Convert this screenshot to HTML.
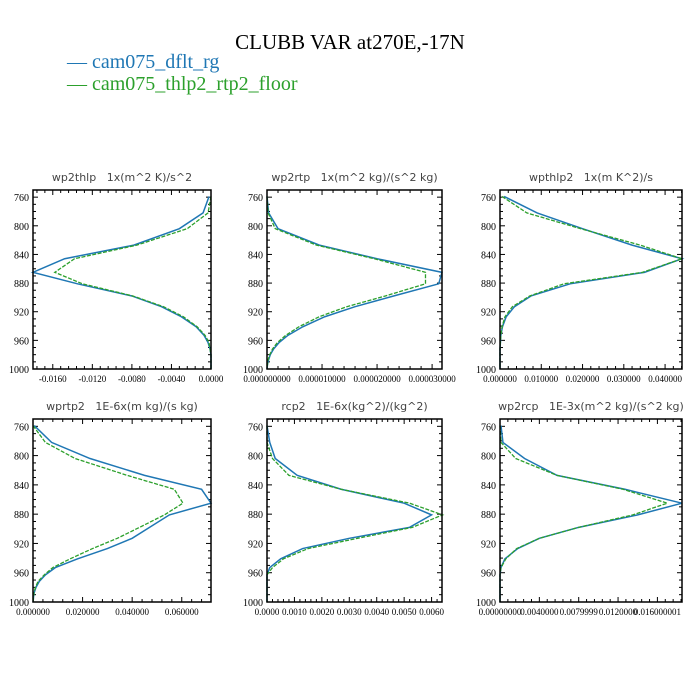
<!DOCTYPE html>
<html><head><meta charset="utf-8"><style>
html,body{margin:0;padding:0;background:#fff;}
svg{display:block;}
.t{font-family:"Liberation Serif",serif;}
.s{font-family:"DejaVu Sans","Liberation Sans",sans-serif;white-space:pre;}
</style></head><body>
<svg id="chart" width="700" height="700" viewBox="0 0 700 700" xmlns="http://www.w3.org/2000/svg">
<rect width="700" height="700" fill="#fff"/>
<text class="t" x="350" y="49" font-size="21" text-anchor="middle">CLUBB VAR at270E,-17N</text>
<g>
<text class="t" x="67" y="68" font-size="20" fill="#1f77b4">— cam075_dflt_rg</text>
<text class="t" x="67" y="90" font-size="20" fill="#2ca02c">— cam075_thlp2_rtp2_floor</text>
</g>
</svg>
<script>
// shared pressure levels (hPa)
const levels = [759,782,804,827,846,865,881,898,913,927,941,953,963,972,980,987,993,998,1000];
const yTicks = [760,800,840,880,920,960,1000];
// panel titles
const titles = ["wp2thlp   1x(m^2 K)/s^2","wp2rtp   1x(m^2 kg)/(s^2 kg)","wpthlp2   1x(m K^2)/s","wprtp2   1E-6x(m kg)/(s kg)","rcp2   1E-6x(kg^2)/(kg^2)","wp2rcp   1E-3x(m^2 kg)/(s^2 kg)"];
// series: dflt (blue) and floor (green)
const p1Blue = [-0.0002,-0.0008,-0.0032,-0.0078,-0.0148,-0.018,-0.0135,-0.0080,-0.0050,-0.0030,-0.0015,-0.0007,-0.0003,-0.0001,0,0,0,0,0];
const p1Green = [0,-0.0003,-0.0024,-0.0075,-0.0138,-0.0158,-0.0130,-0.0079,-0.0048,-0.0028,-0.0014,-0.0006,-0.0002,-0.0001,0,0,0,0,0];
const p2Blue = [0,0.0000003,0.000002,0.0000095,0.000020,0.0000318,0.0000312,0.000023,0.000016,0.0000105,0.0000065,0.0000038,0.0000022,0.0000012,0.0000006,0.0000003,0.0000001,0.00000003,0];
const p2Green = [0,0.0000002,0.0000015,0.000009,0.0000195,0.0000288,0.0000288,0.0000215,0.0000145,0.0000095,0.0000058,0.0000034,0.0000019,0.000001,0.0000005,0.0000002,0.0000001,0.00000003,0];
const p3Blue = [0.001,0.009,0.020,0.032,0.0441,0.035,0.017,0.0075,0.0035,0.0015,0.0006,0.0002,0.0001,0,0,0,0,0,0];
const p3Green = [0.0005,0.0065,0.0195,0.034,0.0441,0.0345,0.0155,0.0072,0.003,0.0012,0.0005,0.0002,0.0001,0,0,0,0,0,0];
const p4Blue = [0.0005,0.0075,0.023,0.045,0.068,0.0718,0.055,0.047,0.040,0.030,0.018,0.009,0.005,0.0025,0.0012,0.0005,0.0002,0.0001,0];
const p4Green = [0,0.005,0.017,0.038,0.057,0.0605,0.053,0.043,0.034,0.024,0.015,0.008,0.0045,0.002,0.001,0.0004,0.0002,0.0001,0];
const p5Blue = [0,0.0001,0.0003,0.0011,0.0027,0.0050,0.0060,0.0052,0.0030,0.0013,0.0005,0.0001,0,0,0,0,0,0,0];
const p5Green = [0,0,0.0002,0.0008,0.0027,0.0052,0.0064,0.0053,0.0033,0.0015,0.0006,0.0002,0,0,0,0,0,0,0];
const p6Blue = [0.0001,0.0003,0.0025,0.0058,0.0127,0.0185,0.0140,0.0080,0.0040,0.0018,0.0005,0.0001,0,0,0,0,0,0,0];
const p6Green = [0,0.0001,0.0016,0.0058,0.0125,0.0170,0.0135,0.0080,0.0040,0.0017,0.0006,0.0001,0,0,0,0,0,0,0];
// x domains and tick values/labels
const xDomains = [[-0.018,0],[0,0.0000318],[0,0.0441],[0,0.0718],[0,0.00638],[0,0.0185]];
const xTickVals = [[-0.016,-0.012,-0.008,-0.004,0],[0,0.00001,0.00002,0.00003],[0,0.01,0.02,0.03,0.04],[0,0.02,0.04,0.06],[0,0.001,0.002,0.003,0.004,0.005,0.006],[0,0.004,0.008,0.012,0.016]];
const xTickLabels = [["-0.0160","-0.0120","-0.0080","-0.0040","0.0000"],["0.000000000","0.000010000","0.000020000","0.000030000"],["0.000000","0.010000","0.020000","0.030000","0.040000"],["0.000000","0.020000","0.040000","0.060000"],["0.0000","0.0010","0.0020","0.0030","0.0040","0.0050","0.0060"],["0.00000000","0.0040000","0.0079999","0.0120000","0.016000001"]];
const blueSeries = [p1Blue,p2Blue,p3Blue,p4Blue,p5Blue,p6Blue];
const greenSeries = [p1Green,p2Green,p3Green,p4Green,p5Green,p6Green];

const NS = "http://www.w3.org/2000/svg";
const svg = document.getElementById('chart');
const lefts = [33,267,500], widths = [178,175,182];
const tops = [190,419], bottoms = [369,602];
function mk(tag, attrs, parent){ const e=document.createElementNS(NS,tag); for(const k in attrs) e.setAttribute(k,attrs[k]); parent.appendChild(e); return e; }

for(let p=0;p<6;p++){
  const col=p%3,row=Math.floor(p/3);
  const L=lefts[col],R=L+widths[col],T=tops[row],B=bottoms[row];
  const d=xDomains[p];
  const xs=v=>L+(v-d[0])/(d[1]-d[0])*(R-L);
  const ys=v=>B-(1000-v)/(1000-750)*(B-T);
  const g=mk('g',{},svg);
  
  
  const tt=mk('text',{x:(L+R)/2,y:T-9,'font-size':11,'text-anchor':'middle',fill:'#444','class':'s'},g);
  
  
  tt.setAttributeNS('http://www.w3.org/XML/1998/namespace','xml:space','preserve');
  tt.textContent=titles[p];
  for(let v=760;v<=1000;v+=10){
    const y=ys(v), major=(v%40===0);
    const len=major?5:3;
    mk('line',{x1:L,y1:y,x2:L+len,y2:y,stroke:'#000','stroke-width':1},g);
    mk('line',{x1:R,y1:y,x2:R-len,y2:y,stroke:'#000','stroke-width':1},g);
  }
  yTicks.forEach(v=>{
    const t=mk('text',{x:L-4,y:ys(v)+4,'font-size':10,'text-anchor':'end','class':'t'},g);
    
    
    t.textContent=String(v);
  });
  const tv=xTickVals[p], step=tv[1]-tv[0];
  for(let i=-1;i<tv.length;i++){
    for(let k=0;k<5;k++){
      const v=tv[0]+i*step+k*step/5;
      if(v<Math.min(d[0],d[1])-1e-12||v>Math.max(d[0],d[1])+1e-12) continue;
      const x=xs(v), len=k===0?5:3;
      mk('line',{x1:x,y1:B,x2:x,y2:B-len,stroke:'#000','stroke-width':1},g);
      mk('line',{x1:x,y1:T,x2:x,y2:T+len,stroke:'#000','stroke-width':1},g);
    }
  }
  tv.forEach((v,i)=>{
    const t=mk('text',{x:xs(v),y:B+13,'font-size':9,'text-anchor':'middle','class':'t'},g);
    
    
    t.textContent=xTickLabels[p][i];
  });
  const bp=mk('polyline',{points:levels.map((l,i)=>xs(blueSeries[p][i])+','+ys(l)).join(' '),fill:'none',stroke:'#1f77b4','stroke-width':1.5},g);
  
  
  const gp=mk('polyline',{points:levels.map((l,i)=>xs(greenSeries[p][i])+','+ys(l)).join(' '),fill:'none',stroke:'#2ca02c','stroke-width':1.3,'stroke-dasharray':'4,1.5'},g);
  
  
  const fr=mk('rect',{x:L,y:T,width:R-L,height:B-T,fill:'none',stroke:'#000','stroke-width':1.5},g);
  
  
}
</script>
</body></html>
